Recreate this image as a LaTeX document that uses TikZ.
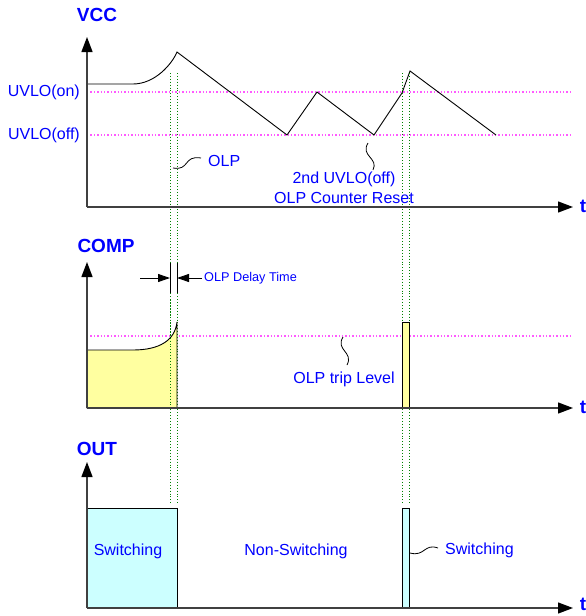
\documentclass[tikz,border=0pt]{standalone}
\usepackage{fontspec}
\setmainfont{Liberation Sans}
\usetikzlibrary{arrows.meta}
\definecolor{lblblue}{RGB}{0,0,255}
\definecolor{pinkdot}{RGB}{255,90,255}
\definecolor{greendot}{RGB}{0,130,0}
\definecolor{compfill}{RGB}{255,255,160}
\definecolor{outfill}{RGB}{204,255,255}
\tikzset{
  axis/.style={line width=1.3pt,draw=black!75,-{Triangle[length=15pt,width=11pt,color=black]}},
  wave/.style={line width=0.9pt,black},
  level/.style={line width=1.4pt,pinkdot,dotted},
  marker/.style={line width=0.9pt,greendot,dotted},
  sig/.style={text=lblblue,font=\bfseries\fontsize{19}{22}\selectfont},
  lbl/.style={text=lblblue,font=\fontsize{16}{19}\selectfont,inner sep=0pt},
  small/.style={text=lblblue,font=\fontsize{12.7}{15}\selectfont,inner sep=0pt},
  squig/.style={line width=0.8pt,black},
  dly/.style={line width=0.9pt,black,-{Triangle[length=12pt,width=8pt]}}
}
\begin{document}
\begin{tikzpicture}[x=1pt,y=-1pt]
\useasboundingbox (0,0) rectangle (586,616);
% ---------- VCC panel ----------
\node[sig] (vcc) at (97,15) {VCC};
\draw[level] (87,92) -- (573,92);
\draw[level] (87,135) -- (573,135);
\node[lbl,anchor=east] (uvon) at (80,92) {UVLO(on)};
\node[lbl,anchor=east] (uvoff) at (80,135) {UVLO(off)};
\draw[wave] (87,84) -- (133,84) .. controls (155,84) and (172,64) .. (177,52)
  -- (287,135) -- (317,92) -- (374,135) -- (402,93) -- (410,71) -- (496,135);
% green markers
\draw[marker] (170,73) -- (170,505);
\draw[marker] (177,73) -- (177,505);
\draw[marker] (402,73) -- (402,505);
\draw[marker] (409,73) -- (409,505);
\draw[axis] (87,207) -- (87,37);
\draw[axis] (87,207) -- (573,207);
\node[sig] (t1) at (583,206) {t};
\draw[squig] (173,168) .. controls (190,171) and (183,155) .. (201,158);
\node[lbl,anchor=west] (olp) at (208,161) {OLP};
\draw[squig] (368,143) .. controls (360,156) and (379,158) .. (373,170);
\node[lbl,align=center] (reset) at (344,188) {2nd UVLO(off)\\[1pt]OLP Counter Reset};
% ---------- COMP panel ----------
\node[sig] (comp) at (106,246) {COMP};
\draw[level] (87,336) -- (573,336);
\draw[wave,fill=compfill] (87,408) -- (87,350) -- (133,350)
  .. controls (160,350) and (175,340) .. (177,322) -- (177,408) -- cycle;
\draw[wave,fill=compfill] (402,408) rectangle (409,322);
\draw[marker] (170,300) -- (170,408);
\draw[axis] (87,408) -- (87,262);
\draw[axis] (87,408) -- (573,408);
\node[sig] (t2) at (583,407) {t};
\draw[line width=0.9pt] (170,263) -- (170,293);
\draw[line width=0.9pt] (177,263) -- (177,293);
\draw[dly] (140,278) -- (170,278);
\draw[dly] (202,278) -- (177,278);
\node[small,anchor=west] (delay) at (204,278) {OLP Delay Time};
\draw[squig] (343,337) .. controls (335,350) and (354,352) .. (347,365);
\node[lbl] (trip) at (344,379) {OLP trip Level};
% ---------- OUT panel ----------
\node[sig] (out) at (97,449) {OUT};
\draw[wave,fill=outfill] (87,608) rectangle (177,508);
\draw[wave,fill=outfill] (402,608) rectangle (409,508);
\draw[axis] (87,608) -- (87,462);
\draw[axis] (87,608) -- (573,608);
\node[sig] (t3) at (583,604) {t};
\node[lbl] (sw1) at (128,551) {Switching};
\node[lbl] (nsw) at (296,551) {Non-Switching};
\draw[squig] (410,553) .. controls (425,557) and (424,543) .. (438,548);
\node[lbl,anchor=west] (sw2) at (445,550) {Switching};
\end{tikzpicture}
\end{document}
